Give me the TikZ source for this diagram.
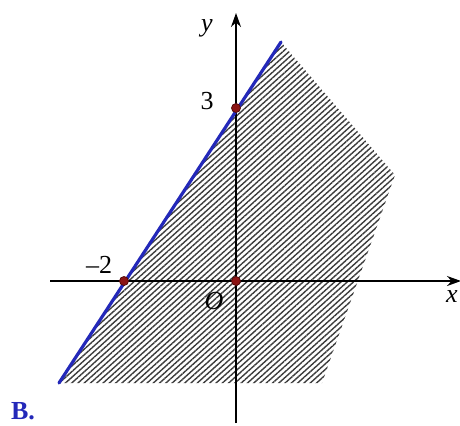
\documentclass[tikz,border=0pt]{standalone}
\usepackage{fontspec}
\setmainfont{Liberation Serif}
\usetikzlibrary{patterns.meta,arrows.meta}
\definecolor{lineblue}{RGB}{35,40,185}
\definecolor{dotred}{RGB}{140,20,20}
\definecolor{hatch}{RGB}{60,60,60}
\tikzset{
  axis/.style={line width=0.85pt,-{Stealth[length=7pt,width=5pt]}},
  ptdot/.style={circle,fill=dotred,draw=dotred!60!black,inner sep=0pt,minimum size=4.5pt},
  lbl/.style={font=\fontsize{13pt}{15pt}\selectfont,inner sep=0pt},
  region/.style={pattern={Lines[angle=42,distance=2.1pt,line width=0.7pt]},pattern color=hatch,draw=none},
  bluel/.style={line width=1.6pt,lineblue,line cap=round}
}
\begin{document}
\begin{tikzpicture}[x=0.5pt,y=-0.5pt]
\useasboundingbox (0,0) rectangle (460,425);
% shaded region
\coordinate (top) at (281,42);
\coordinate (rv) at (395,175);
\coordinate (br) at (322,383);
\coordinate (bl) at (59,383);
\fill[region] (bl) -- (top) -- (rv) -- (br) -- cycle;
% axes
\coordinate (xs) at (50,281);
\coordinate (xe) at (461,281);
\coordinate (ys) at (236,423);
\coordinate (ye) at (236,13);
\draw[axis] (xs) -- (xe);
\draw[axis] (ys) -- (ye);
% blue line
\draw[bluel] (bl) -- (top);
% points
\node[ptdot] (A) at (124,281) {};
\node[ptdot] (Bp) at (236,108) {};
\node[ptdot] (O) at (236,281) {};
% labels
\node[lbl] (ylab) at (207,28) {\itshape y};
\node[lbl] (xlab) at (452,297) {\itshape x};
\node[lbl] (three) at (207,101) {3};
\node[lbl] (mtwo) at (99,265) {–2};
\node[lbl] (olab) at (214,301) {\itshape O};
\node[lbl,text=lineblue,font=\fontsize{13pt}{15pt}\selectfont\bfseries] (blab) at (23,411) {B.};
\end{tikzpicture}
\end{document}
